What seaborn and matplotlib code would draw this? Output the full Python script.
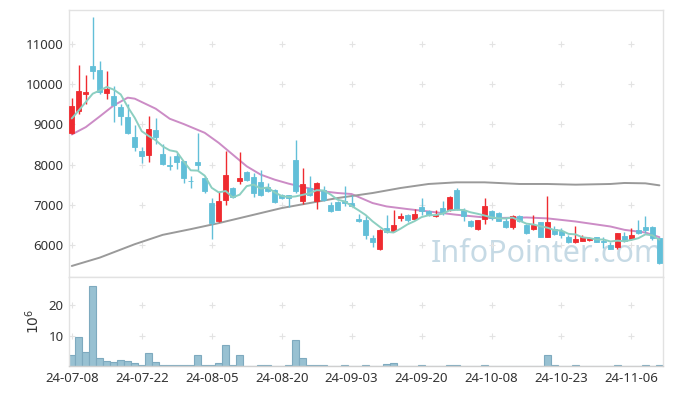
import numpy as np
import pandas as pd
import matplotlib
matplotlib.use("Agg")
import matplotlib.pyplot as plt
from matplotlib import font_manager
import seaborn as sns

# daily candles (bar index 0 = 24-07-08)
opens = [8783, 9333, 9770, 10450, 10367, 9783, 9700, 9433, 9183, 8683,
         8350, 8242, 8850, 8267, 8000, 8208, 8083, 7600, 8058, 7667,
         7042, 6583, 7108, 7417, 7583, 7825, 7692, 7567, 7442, 7358,
         7242, 7242, 8125, 7083, 7417, 7083, 7358, 7000, 7075, 7083,
         7050, 6650, 6625, 6183, 5908, 6417, 6358, 6667, 6750, 6650,
         6942, 6850, 6708, 6917, 6875, 7358, 6875, 6600, 6392, 6642,
         6850, 6792, 6600, 6433, 6708, 6500, 6400, 6558, 6208, 6400,
         6358, 6192, 6083, 6108, 6125, 6192, 6090, 6000, 5958, 6225,
         6150, 6375, 6433, 6433, 6167]
highs = [9667, 10475, 10242, 11667, 10583, 10342, 9950, 9500, 9517, 8975,
         8450, 9200, 9167, 8517, 8208, 8283, 8100, 7725, 8775, 7708,
         7167, 7308, 8333, 7442, 8308, 7840, 7792, 7858, 7542, 7380,
         7275, 7250, 8608, 7917, 7708, 7558, 7458, 7058, 7090, 7475,
         7250, 6775, 6708, 6250, 6392, 6750, 6858, 6792, 6775, 6892,
         7167, 6875, 6875, 7083, 7208, 7417, 6917, 6620, 6625, 7167,
         6880, 6810, 6667, 6750, 6750, 6510, 6750, 6570, 7208, 6475,
         6417, 6250, 6475, 6250, 6208, 6200, 6192, 6083, 6308, 6333,
         6417, 6625, 6708, 6475, 6175]
lows = [8750, 9267, 9517, 10142, 9767, 9642, 9058, 8975, 8767, 8350,
        8042, 8075, 8517, 8000, 7867, 7892, 7542, 7417, 7858, 7292,
        6142, 6558, 7000, 7167, 7525, 7600, 7192, 7208, 7308, 7040,
        7142, 6942, 7292, 7025, 7208, 6892, 7083, 6808, 6858, 6975,
        6958, 6558, 6142, 5958, 5867, 6308, 6333, 6583, 6558, 6625,
        6750, 6708, 6692, 6750, 6833, 6858, 6583, 6440, 6375, 6525,
        6608, 6583, 6417, 6400, 6560, 6280, 6375, 6200, 6192, 6250,
        6167, 6042, 6058, 6092, 6092, 6075, 5917, 5900, 5900, 6083,
        6125, 6275, 6292, 6125, 5525]
closes = [9450, 9825, 9810, 10333, 9808, 9892, 9492, 9208, 8783, 8450,
          8225, 8892, 8683, 8017, 7960, 8058, 7667, 7583, 7983, 7333,
          6542, 7100, 7750, 7192, 7667, 7608, 7292, 7250, 7333, 7058,
          7158, 7158, 7333, 7525, 7250, 7542, 7125, 6833, 6875, 7042,
          6975, 6583, 6250, 6083, 6375, 6333, 6500, 6725, 6625, 6775,
          6833, 6733, 6750, 6792, 7192, 6892, 6725, 6458, 6608, 6975,
          6667, 6600, 6442, 6725, 6583, 6292, 6500, 6208, 6558, 6275,
          6250, 6083, 6142, 6192, 6175, 6083, 6075, 5900, 6292, 6100,
          6250, 6292, 6375, 6167, 5558]
# volume in millions
volume = [3.8, 9.7, 4.5, 26.2, 2.8, 1.6, 1.3, 2.0, 1.6, 1.0,
          0.3, 4.2, 1.3, 0.2, 0.2, 0.2, 0.2, 0.2, 3.5, 0.2,
          0.5, 0.9, 6.8, 0.2, 3.5, 0.1, 0.1, 0.5, 0.3, 0.1,
          0.1, 0.5, 8.7, 2.8, 0.5, 0.5, 0.3, 0.1, 0.1, 0.4,
          0.1, 0.1, 0.4, 0.1, 0.1, 0.8, 1.1, 0.1, 0.1, 0.1,
          0.4, 0.1, 0.1, 0.1, 0.3, 0.4, 0.1, 0.05, 0.05, 0.4,
          0.1, 0.05, 0.05, 0.05, 0.05, 0.05, 0.05, 0.05, 3.7, 0.4,
          0.1, 0.05, 0.4, 0.05, 0.05, 0.05, 0.05, 0.05, 0.2, 0.1,
          0.1, 0.1, 0.4, 0.1, 0.4]

# first 4 points of the 5-day line (need days before the window)
ma5_head = [9150, 9350, 9558, 9767]
# 20-day and 60-day lines
ma20_x = [0, 2, 4, 6, 8, 9, 10, 12, 14, 16, 19, 21, 23, 25, 27, 29, 31, 33, 36,
          38, 40, 43, 45, 48, 51, 55, 60, 65, 68, 72, 77, 79, 82, 84]
ma20_y = [8750, 8933, 9200, 9475, 9667, 9642, 9558, 9392, 9142, 9010, 8792, 8542,
          8250, 7958, 7750, 7625, 7525, 7442, 7333, 7292, 7267, 7042, 6958, 6892,
          6833, 6750, 6667, 6683, 6660, 6583, 6458, 6375, 6308, 6192]
ma60_x = [0, 4, 9, 13, 17, 21, 26, 30, 34, 38, 43, 47, 51, 55, 59, 64, 68, 72, 77,
          79, 82, 84]
ma60_y = [5475, 5683, 6017, 6250, 6392, 6542, 6750, 6917, 7042, 7167, 7292, 7417,
          7517, 7558, 7558, 7517, 7517, 7500, 7517, 7542, 7533, 7483]

tick_labels = ["24-07-08", "24-07-22", "24-08-05", "24-08-20", "24-09-03",
               "24-09-20", "24-10-08", "24-10-23", "24-11-06"]

df = pd.DataFrame({"open": opens, "high": highs, "low": lows,
                   "close": closes, "volume": volume})
df["idx"] = np.arange(len(df))
ma5 = df["close"].rolling(5).mean()
ma5.iloc[:4] = ma5_head
df["ma5"] = ma5

sns.set_theme(style="white")
plt.rcParams["font.family"] = ["Noto Sans", "DejaVu Sans"]

RED = "#ef2b30"
BLUE = "#62bfd8"
GRID = "#e3e3e3"

fig = plt.figure(figsize=(6.73, 3.96), dpi=100)
ax = fig.add_axes([0.1025, 0.3005, 0.8825, 0.6742])
axv = fig.add_axes([0.1025, 0.0755, 0.8825, 0.225], sharex=ax)

# candles
up = df["close"] >= df["open"]
cols = np.where(up, RED, BLUE)
ax.vlines(df["idx"], df["low"], df["high"], colors=cols, lw=1, zorder=3)
ax.bar(df["idx"], df["close"] - df["open"], bottom=df["open"], width=0.7,
       color=cols, edgecolor=cols, linewidth=0.6, zorder=4)

# moving averages
sns.lineplot(data=df, x="idx", y="ma5", ax=ax, color="#8ccfc1", lw=1.4, zorder=5)
sns.lineplot(x=ma20_x, y=ma20_y, ax=ax, color="#cc8cc6", lw=1.4, zorder=2)
sns.lineplot(x=ma60_x, y=ma60_y, ax=ax, color="#9a9a9a", lw=1.4, zorder=2)

# volume
sns.barplot(data=df, x="idx", y="volume", ax=axv, native_scale=True, width=1.0,
            color="#98c1d2", edgecolor="#7eaabf", linewidth=0.8, saturation=1)

xt = np.arange(0, 81, 10)
ax.set_xlim(-0.4, 84.5)
ax.set_ylim(5200, 11850)
axv.set_ylim(0, 29.2)

yt = np.arange(6000, 11001, 1000)
for x in xt:
    ax.plot([x] * len(yt), yt, ls="none", marker="+", ms=5, mew=0.8, color=GRID, zorder=1)
    axv.plot([x, x], [10, 20], ls="none", marker="+", ms=5, mew=0.8, color=GRID, zorder=0)

ax.set_yticks(yt)
ax.set_yticklabels([str(v) for v in yt])
axv.set_yticks([10, 20])
axv.set_xticks(xt)
axv.set_xticklabels(tick_labels)
plt.setp(ax.get_xticklabels(), visible=False)

for a in (ax, axv):
    a.set_xlabel("")
    a.set_ylabel("")
    a.tick_params(length=0, labelsize=9.5, colors="#333333", pad=4)
    for s in a.spines.values():
        s.set_color("#e2e2e2")
        s.set_linewidth(1)
axv.spines["bottom"].set_color("#cfcfcf")
axv.set_ylabel(r"$10^6$", fontsize=10, color="#333333", labelpad=4)

# watermark - narrow face if there is one
names = {f.name for f in font_manager.fontManager.ttflist}
if "Liberation Sans Narrow" in names:
    wm_font, wm_size = "Liberation Sans Narrow", 27
else:
    wm_font, wm_size = "Noto Sans", 22
ax.text(0.805, 0.085, "InfoPointer.com", transform=ax.transAxes, ha="center",
        va="center", fontsize=wm_size, family=wm_font, color="#c6dae5", zorder=0)

fig.savefig("out.png", dpi=100)
